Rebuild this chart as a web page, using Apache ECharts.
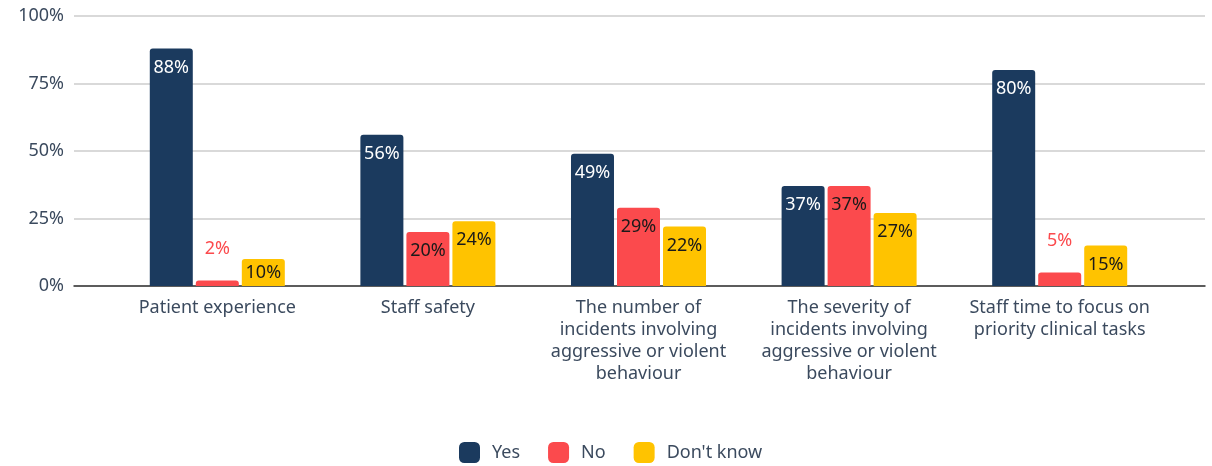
<!DOCTYPE html>
<html>
<head>
<meta charset="utf-8">
<script src="https://cdn.jsdelivr.net/npm/echarts@6/dist/echarts.min.js"></script>
<style>
  html, body { margin: 0; padding: 0; background: #fff; }
  #main { width: 1212px; height: 466px; }
</style>
</head>
<body>
<div id="main"></div>
<script>
// categories and values (percent)
var categories = [
    'Patient experience',
    'Staff safety',
    'The number of\nincidents involving\naggressive or violent\nbehaviour',
    'The severity of\nincidents involving\naggressive or violent\nbehaviour',
    'Staff time to focus on\npriority clinical tasks'
];
var yesValues = [88, 56, 49, 37, 80];
var noValues = [2, 20, 29, 37, 5];
var dontKnowValues = [10, 24, 22, 27, 15];
var yTicks = [0, 25, 50, 75, 100];

var colYes = '#1b3a5e';
var colNo = '#fb4a4d';
var colDk = '#ffc300';
var font = 'Noto Sans';

// small values get label above the bar, short bars get it centred
function buildData(values, color) {
    return values.map(function (v) {
        if (v < 8) {
            return { value: v, label: { position: 'top', color: color, distance: 23 } };
        }
        if (v < 12) {
            return { value: v, label: { position: 'inside' } };
        }
        return v;
    });
}

function barSeries(name, values, color, labelColor) {
    return {
        name: name,
        type: 'bar',
        xAxisIndex: 1,
        yAxisIndex: 1,
        barWidth: 43,
        barGap: '7%',
        itemStyle: { color: color, borderRadius: [3, 3, 0, 0] },
        label: {
            show: true,
            position: 'insideTop',
            distance: 10,
            color: labelColor,
            fontFamily: font,
            fontSize: 18,
            formatter: '{c}%'
        },
        data: buildData(values, color)
    };
}

var myChart = echarts.init(document.getElementById('main'));
var option = {
    animation: false,
    textStyle: { fontFamily: font },
    legend: {
        top: 437,
        left: 454,
        itemWidth: 21,
        itemHeight: 21,
        itemGap: 28,
        icon: 'roundRect',
        textStyle: { fontFamily: font, fontSize: 18, color: '#3b4a5e', padding: [0, 0, 0, 7] },
        data: ['Yes', 'No', "Don't know"]
    },
    grid: [
        { left: 74, right: 7, top: 16, bottom: 180 },   // gridlines + y labels
        { left: 112, right: 47, top: 16, bottom: 180 }  // bars
    ],
    xAxis: [
        {
            type: 'value', gridIndex: 0, min: 0, max: 1, show: true,
            axisLine: { show: true, onZero: false, lineStyle: { color: '#333', width: 1.5 } },
            axisTick: { show: false }, axisLabel: { show: false }, splitLine: { show: false }
        },
        {
            type: 'category', gridIndex: 1, data: categories,
            axisLine: { show: false }, axisTick: { show: false },
            axisLabel: {
                margin: 11, fontFamily: font, fontSize: 18, lineHeight: 22,
                color: '#3b4a5e', interval: 0
            }
        }
    ],
    yAxis: [
        {
            type: 'value', gridIndex: 0, min: 0, max: 100, interval: 25,
            axisLine: { show: false }, axisTick: { show: false },
            axisLabel: { margin: 10, fontFamily: font, fontSize: 18, color: '#3b4a5e', formatter: '{value}%' },
            splitLine: { lineStyle: { color: '#cccccc', width: 1.5 } }
        },
        {
            type: 'value', gridIndex: 1, min: 0, max: 100, interval: 25, show: false,
            splitLine: { show: false }
        }
    ],
    series: [
        barSeries('Yes', yesValues, colYes, '#ffffff'),
        barSeries('No', noValues, colNo, '#1a1a1a'),
        barSeries("Don't know", dontKnowValues, colDk, '#1a1a1a')
    ]
};
myChart.setOption(option);
</script>
</body>
</html>
